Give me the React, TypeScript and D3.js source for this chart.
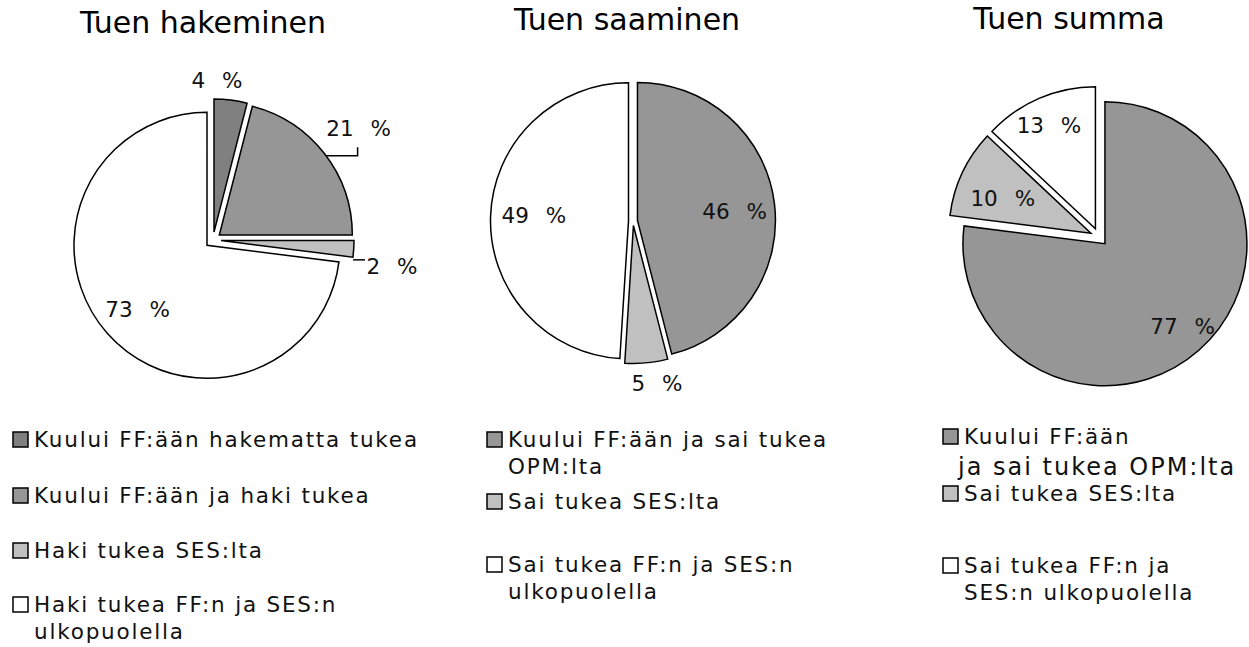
import React from 'react';
import * as d3 from 'd3';

// Data
const titles = ['Tuen hakeminen', 'Tuen saaminen', 'Tuen summa'];

const hakeminenValues = [4, 21, 2, 73];
const saaminenValues = [46, 5, 49];
const summaValues = [77, 10, 13];

const hakeminenColors = ['#808080', '#969696', '#c0c0c0', '#ffffff'];
const saaminenColors = ['#969696', '#c0c0c0', '#ffffff'];
const summaColors = ['#969696', '#c0c0c0', '#ffffff'];

const hakeminenLegend = [
  ['Kuului FF:ään hakematta tukea'],
  ['Kuului FF:ään ja haki tukea'],
  ['Haki tukea SES:lta'],
  ['Haki tukea FF:n ja SES:n', 'ulkopuolella'],
];
const saaminenLegend = [
  ['Kuului FF:ään ja sai tukea', 'OPM:lta'],
  ['Sai tukea SES:lta'],
  ['Sai tukea FF:n ja SES:n', 'ulkopuolella'],
];
const summaLegend = [
  ['Kuului FF:ään', 'ja sai tukea OPM:lta'],
  ['Sai tukea SES:lta'],
  ['Sai tukea FF:n ja', 'SES:n ulkopuolella'],
];

// Layout
const W = 1249;
const H = 647;
const FONT = '"DejaVu Sans", Verdana, sans-serif';

interface PieLayout {
  cx: number;
  cy: number;
  r: number;
  explode: number;
  titleX: number;
  titleY: number;
  // label placement: radius factor and angle nudge (degrees) per slice
  labelRf: number[];
  labelDa: number[];
  leaders: (null | 'elbow' | 'flat')[];
  legendX: number;
  legendRows: number[];
  bigSecondLine?: boolean; // first legend item wraps in a larger font
}

const layouts: PieLayout[] = [
  {
    cx: 213, cy: 240, r: 133, explode: 8,
    titleX: 203, titleY: 33,
    labelRf: [1.2, 1.38, 1.36, 0.77],
    labelDa: [-5.8, 0.3, 4.7, -1.2],
    leaders: [null, 'elbow', 'flat', null],
    legendX: 13,
    legendRows: [447, 503, 558, 612],
  },
  {
    cx: 633, cy: 221, r: 138, explode: 4.5,
    titleX: 627, titleY: 30,
    labelRf: [0.74, 1.19, 0.72],
    labelDa: [1.6, -3, 1.1],
    leaders: [null, null, null],
    legendX: 487,
    legendRows: [447, 509, 572],
  },
  {
    cx: 1099, cy: 237, r: 142, explode: 9,
    titleX: 1069, titleY: 29,
    labelRf: [0.86, 0.73, 0.86],
    labelDa: [-1.8, -3.4, -0.8],
    leaders: [null, null, null],
    legendX: 943,
    legendRows: [444, 501, 573],
    bigSecondLine: true,
  },
];

const allValues = [hakeminenValues, saaminenValues, summaValues];
const allColors = [hakeminenColors, saaminenColors, summaColors];
const allLegends = [hakeminenLegend, saaminenLegend, summaLegend];

const polar = (a: number, d: number): [number, number] => [Math.sin(a) * d, -Math.cos(a) * d];

const PieChart: React.FC<{ idx: number }> = ({ idx }) => {
  const L = layouts[idx];
  const values = allValues[idx];
  const colors = allColors[idx];
  const legend = allLegends[idx];

  const pie = d3.pie<number>().sort(null).value(d => d).startAngle(0).endAngle(2 * Math.PI);
  const arcs = pie(values);
  const arc = d3.arc<d3.PieArcDatum<number>>().innerRadius(0).outerRadius(L.r);

  return (
    <g>
      <text x={L.titleX} y={L.titleY} textAnchor="middle" fontSize={30} fontFamily={FONT} fill="#000">
        {titles[idx]}
      </text>
      {arcs.map((a, i) => {
        const mid = (a.startAngle + a.endAngle) / 2;
        const [ox, oy] = polar(mid, L.explode);
        return (
          <path
            key={'s' + i}
            d={arc(a) || ''}
            transform={`translate(${L.cx + ox},${L.cy + oy})`}
            fill={colors[i]}
            stroke="#000"
            strokeWidth={1.5}
            strokeLinejoin="miter"
          />
        );
      })}
      {arcs.map((a, i) => {
        const mid = (a.startAngle + a.endAngle) / 2;
        const ang = mid + (L.labelDa[i] * Math.PI) / 180;
        const [lx, ly] = polar(ang, L.labelRf[i] * L.r);
        const tx = L.cx + lx;
        const ty = L.cy + ly;
        const [ox, oy] = polar(mid, L.explode);
        let leader = null;
        if (L.leaders[i] === 'elbow') {
          const [sx, sy] = polar(mid + 0.02, L.r);
          const x0 = L.cx + ox + sx;
          const y0 = L.cy + oy + sy;
          leader = <path d={`M${x0},${y0}H${tx - 1}V${ty + 19}`} fill="none" stroke="#000" strokeWidth={1.5} />;
        } else if (L.leaders[i] === 'flat') {
          const [sx, sy] = polar(a.endAngle - 0.01, L.r);
          const x0 = L.cx + ox + sx;
          const y0 = L.cy + oy + sy + 4;
          leader = <path d={`M${x0},${y0}H${tx - 27}`} fill="none" stroke="#000" strokeWidth={1.5} />;
        }
        return (
          <g key={'l' + i}>
            {leader}
            <text
              x={tx}
              y={ty}
              textAnchor="middle"
              dominantBaseline="central"
              fontSize={21.5}
              fontFamily={FONT}
              wordSpacing={10}
              fill="#111"
            >
              {a.data} %
            </text>
          </g>
        );
      })}
      {legend.map((lines, i) => {
        const y = L.legendRows[i];
        return (
          <g key={'g' + i}>
            <rect x={L.legendX} y={y - 15} width={15} height={15} fill={colors[i]} stroke="#000" strokeWidth={1.5} />
            {lines.map((t, j) => {
              const big = j > 0 && i === 0 && L.bigSecondLine;
              return (
                <text
                  key={j}
                  x={L.legendX + (big ? 15 : 21)}
                  y={y + j * (big ? 31 : 27)}
                  fontSize={big ? 24 : 21.5}
                  letterSpacing={big ? 2 : 1.8}
                  fontFamily={FONT}
                  fill="#111"
                >
                  {t}
                </text>
              );
            })}
          </g>
        );
      })}
    </g>
  );
};

export default function App() {
  return (
    <div style={{ position: 'absolute', left: 0, top: 0 }}>
      <svg width={W} height={H} style={{ display: 'block', background: '#fff' }}>
        {layouts.map((_, i) => (
          <PieChart key={i} idx={i} />
        ))}
      </svg>
    </div>
  );
}
